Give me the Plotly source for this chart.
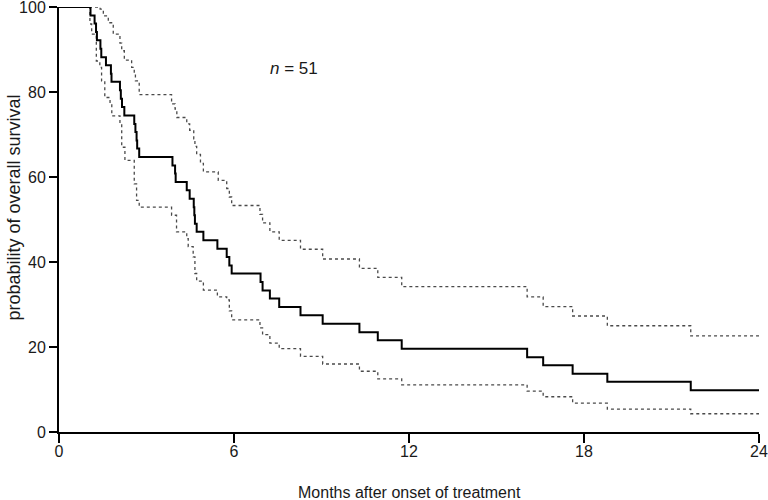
import plotly.graph_objects as go

# Kaplan-Meier estimate (months, % surviving after each drop)
km_t = [0, 1.08, 1.22, 1.27, 1.30, 1.42, 1.45, 1.61, 1.78, 1.80,
        2.09, 2.12, 2.16, 2.24, 2.58, 2.62, 2.66, 2.68, 2.75,
        3.89, 3.98, 4.00, 4.38, 4.48, 4.62, 4.64, 4.66, 4.72, 4.95,
        5.43, 5.75, 5.84, 5.92, 6.91, 6.98, 7.23, 7.55,
        8.28, 9.04, 10.30, 10.93, 11.75, 16.05, 16.60, 17.61, 18.80, 21.66, 24.0]
km_s = [100, 98.0, 96.1, 94.1, 92.2, 90.2, 88.2, 86.3, 84.3, 82.4,
        80.4, 78.4, 76.5, 74.5, 72.5, 70.6, 68.6, 66.7, 64.7,
        62.7, 60.8, 58.8, 56.9, 54.9, 52.9, 51.0, 49.0, 47.1, 45.1,
        43.1, 41.2, 39.2, 37.3, 35.3, 33.3, 31.4, 29.4,
        27.5, 25.5, 23.5, 21.6, 19.6, 17.6, 15.7, 13.7, 11.8, 9.8, 9.8]

# Upper confidence limit
up_t = [0, 1.41, 1.52, 1.69, 1.86, 2.09, 2.15, 2.24, 2.49, 2.58, 2.62, 2.75,
        3.86, 3.98, 4.04, 4.38, 4.48, 4.62, 4.66, 4.72, 4.85, 4.95,
        5.46, 5.75, 5.84, 5.92, 6.89, 6.98, 7.23, 7.55,
        8.28, 9.04, 10.30, 10.93, 11.75, 16.05, 16.60, 17.61, 18.80, 21.66, 24.0]
up_s = [100, 99.5, 97.9, 96.3, 93.6, 91.5, 89.7, 87.5, 85.8, 84.2, 82.6, 79.4,
        77.2, 76.0, 74.0, 72.5, 71.0, 69.0, 67.2, 65.3, 63.2, 61.2,
        59.2, 57.3, 55.3, 53.3, 51.2, 49.2, 47.1, 45.1,
        43.0, 40.7, 38.5, 36.4, 34.2, 31.8, 29.5, 27.3, 25.0, 22.6, 22.6]

# Lower confidence limit
lo_t = [0, 1.06, 1.12, 1.28, 1.40, 1.46, 1.57, 1.75, 1.81, 2.09, 2.15, 2.26,
        2.58, 2.66, 2.75, 3.86, 4.03, 4.38, 4.43, 4.60, 4.66, 4.72, 4.95,
        5.43, 5.75, 5.84, 5.92, 6.89, 6.98, 7.23, 7.55,
        8.28, 9.04, 10.30, 10.93, 11.75, 16.05, 16.60, 17.61, 18.80, 21.66, 24.0]
lo_s = [100, 96.0, 93.6, 87.3, 85.8, 82.6, 78.7, 77.2, 74.4, 72.5, 67.0, 63.9,
        58.4, 54.5, 52.9, 51.0, 47.1, 45.5, 43.6, 41.2, 37.3, 35.5, 33.4,
        31.8, 31.1, 28.5, 26.4, 24.5, 22.9, 20.9, 19.6,
        17.8, 16.0, 14.3, 12.5, 11.1, 9.6, 8.3, 6.8, 5.4, 4.3, 4.3]

x_ticks = [0, 6, 12, 18, 24]
y_ticks = [0, 20, 40, 60, 80, 100]

FONT = "Liberation Sans"

fig = go.Figure()
dot = dict(color="#4a4a4a", width=1.3, dash="dot", shape="hv")
fig.add_trace(go.Scatter(x=up_t, y=up_s, mode="lines", line=dot, cliponaxis=False,
                         showlegend=False, hoverinfo="skip"))
fig.add_trace(go.Scatter(x=lo_t, y=lo_s, mode="lines", line=dot, cliponaxis=False,
                         showlegend=False, hoverinfo="skip"))
fig.add_trace(go.Scatter(x=km_t, y=km_s, mode="lines", cliponaxis=False,
                         line=dict(color="black", width=2, shape="hv"),
                         showlegend=False))

axis_common = dict(showgrid=False, zeroline=False, showline=True, linecolor="black",
                   linewidth=2, ticks="outside", tickwidth=2, tickcolor="black",
                   automargin=False, ticklabeloverflow="allow",
                   tickfont=dict(size=16, family=FONT, color="#1a1a1a"))

fig.update_layout(
    width=768, height=500,
    margin=dict(l=59, r=9, t=7, b=68),
    paper_bgcolor="white", plot_bgcolor="white",
    font=dict(family=FONT, size=16, color="#1a1a1a"),
    xaxis=dict(range=[0, 24], tickvals=x_ticks, ticktext=[str(v) for v in x_ticks],
               ticklen=9, ticklabelstandoff=-5, **axis_common),
    yaxis=dict(range=[0, 100], tickvals=y_ticks, ticktext=[str(v) for v in y_ticks],
               ticklen=8, **axis_common),
    annotations=[
        dict(text="Months after onset of treatment", xref="paper", yref="paper",
             x=0.5, y=0, yanchor="middle", xanchor="center", yshift=-60,
             showarrow=False, font=dict(size=16)),
        dict(text="probability of overall survival", xref="paper", yref="paper",
             x=0, y=0.5, xanchor="center", yanchor="middle", xshift=-46, yshift=12,
             textangle=-90, showarrow=False, font=dict(size=18)),
        dict(text="<i>n</i> = 51", xref="x", yref="y", x=8.04, y=85.5,
             showarrow=False, font=dict(size=17)),
    ],
)

fig.write_html("out.html", config={"displayModeBar": False},
               post_script="document.body.style.margin='0px';document.body.style.padding='0px';")
